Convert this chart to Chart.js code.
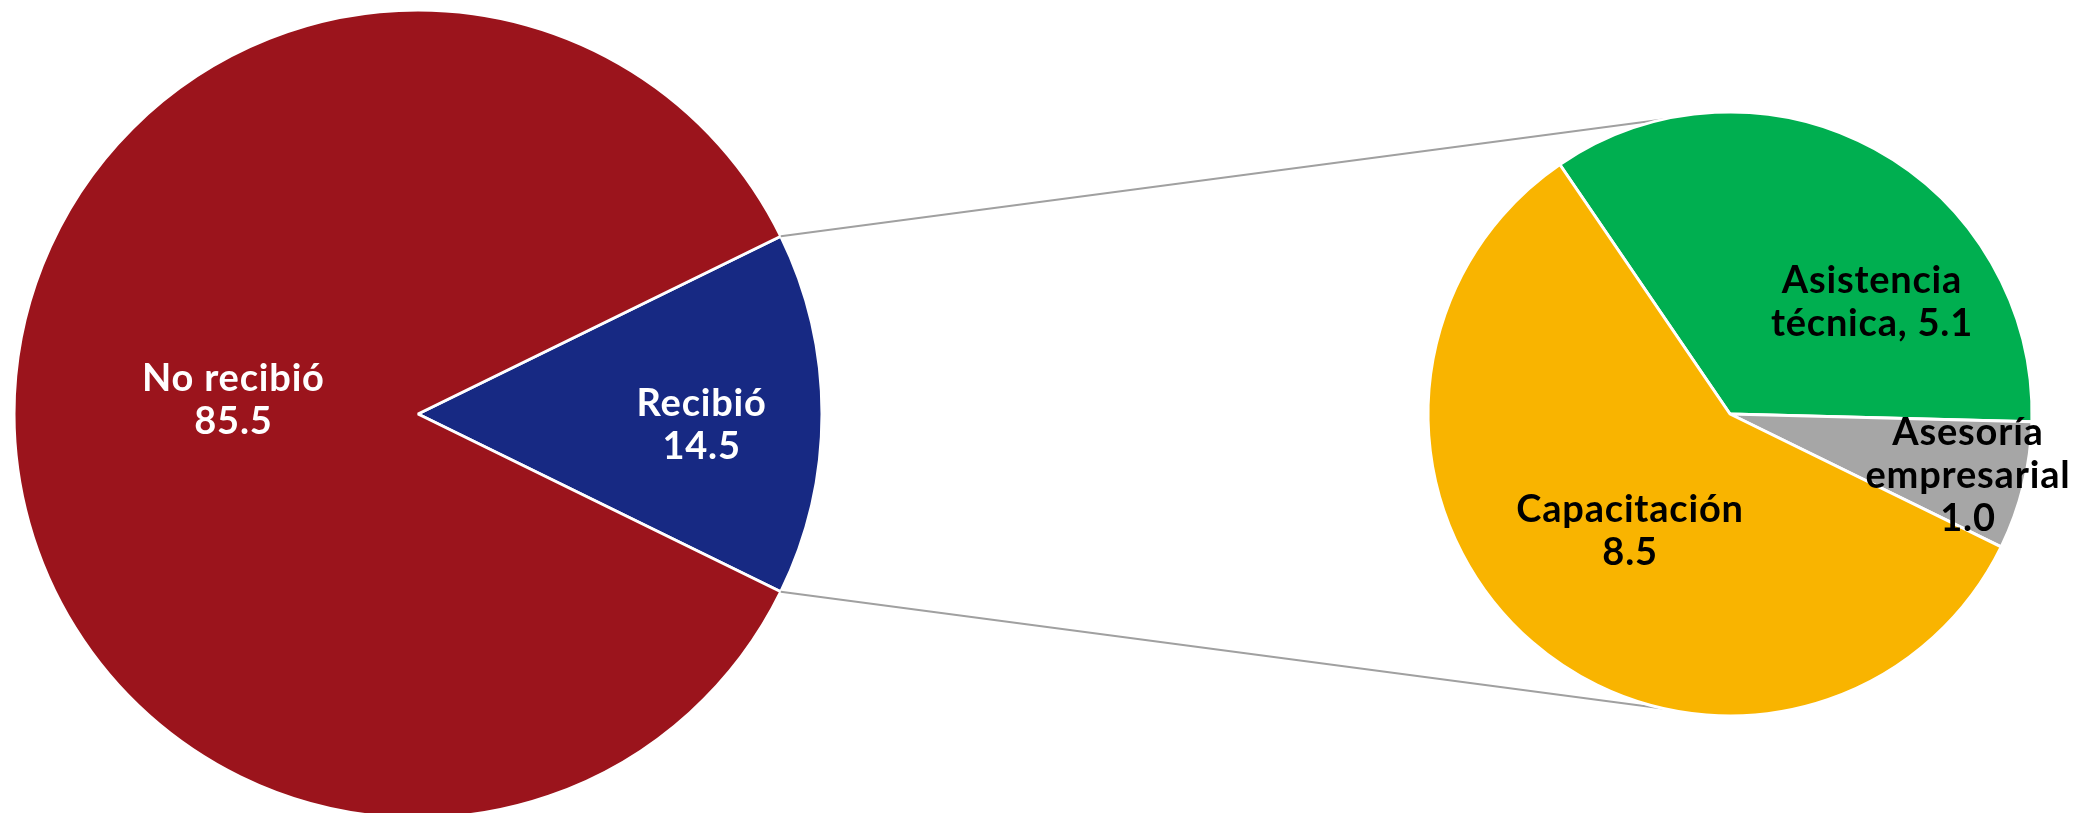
<!DOCTYPE html>
<html lang="es">
<head>
<meta charset="utf-8">
<title>Apoyo recibido</title>
<script src="https://cdn.jsdelivr.net/npm/chart.js@4.4.1/dist/chart.umd.min.js"></script>
<style>
  html, body { margin: 0; padding: 0; background: #fff; overflow: hidden; }
  #wrap { position: relative; width: 2079px; height: 813px; overflow: hidden; }
  #wrap canvas { position: absolute; left: 0; top: 0; }
</style>
</head>
<body>
<div id="wrap">
  <canvas id="main" width="2079" height="830"></canvas>
  <canvas id="detail" width="2079" height="830"></canvas>
</div>
<script>
  // main pie: received support or not
  const mainCategories = ["Recibió", "No recibió"];
  const mainValues = [14.5, 85.5];
  const mainColors = ["#172983", "#9b141c"];
  // "{v}" is replaced by the slice value
  const mainLines = [["Recibió", "{v}"], ["No recibió", "{v}"]];

  // detail pie: type of support received
  const detailCategories = ["Asistencia técnica", "Asesoría empresarial", "Capacitación"];
  const detailValues = [5.1, 1.0, 8.5];
  const detailColors = ["#00af50", "#a6a6a6", "#f9b400"];
  const detailLines = [["Asistencia", "técnica, {v}"], ["Asesoría", "empresarial", "{v}"], ["Capacitación", "{v}"]];

  const fmt = v => v.toFixed(1);
  const fillLines = (lines, values) => lines.map((l, i) => l.map(s => s.replace("{v}", fmt(values[i]))));

  // text drawn inside the slices, offset from the pie centre in units of radius
  const sliceLabels = {
    id: "sliceLabels",
    afterDatasetsDraw(chart, args, opts) {
      const ctx = chart.ctx;
      const arcs = chart.getDatasetMeta(0).data;
      ctx.save();
      ctx.font = "bold " + opts.size + "px Lato";
      ctx.letterSpacing = "0.8px";
      ctx.fillStyle = opts.color;
      ctx.textAlign = "center";
      ctx.textBaseline = "alphabetic";
      arcs.forEach((arc, i) => {
        const lines = opts.lines[i];
        const r = arc.outerRadius;
        const cx = arc.x + opts.offsets[i][0] * r;
        const cy = arc.y + opts.offsets[i][1] * r;
        const h = opts.capHeight + (lines.length - 1) * opts.lineHeight;
        let y = cy - h / 2 + opts.capHeight;
        lines.forEach(line => {
          ctx.fillText(line, cx, y);
          y += opts.lineHeight;
        });
      });
      ctx.restore();
    }
  };

  let mainChart;

  // grey lines joining the "Recibió" slice to the detail pie
  const connectors = {
    id: "connectors",
    beforeDatasetsDraw(chart, args, opts) {
      if (!mainChart) return;
      const src = mainChart.getDatasetMeta(0).data[0];
      const dst = chart.getDatasetMeta(0).data[0];
      const tilt = opts.tilt * Math.PI / 180;
      const pairs = [
        [src.startAngle, -Math.PI / 2 - tilt],
        [src.endAngle, Math.PI / 2 + tilt]
      ];
      const ctx = chart.ctx;
      ctx.save();
      ctx.strokeStyle = opts.color;
      ctx.lineWidth = opts.width;
      pairs.forEach(([a, b]) => {
        ctx.beginPath();
        ctx.moveTo(src.x + Math.cos(a) * src.outerRadius, src.y + Math.sin(a) * src.outerRadius);
        ctx.lineTo(dst.x + Math.cos(b) * dst.outerRadius, dst.y + Math.sin(b) * dst.outerRadius);
        ctx.stroke();
      });
      ctx.restore();
    }
  };

  const baseOptions = {
    responsive: false,
    animation: false,
    events: [],
    plugins: { legend: { display: false }, tooltip: { enabled: false } }
  };

  function draw() {
    mainChart = new Chart(document.getElementById("main"), {
      type: "pie",
      data: {
        labels: mainCategories,
        datasets: [{
          data: mainValues,
          backgroundColor: mainColors,
          borderColor: "#ffffff",
          borderWidth: 3
        }]
      },
      options: {
        ...baseOptions,
        rotation: 63.9,
        layout: { padding: { left: 12.5, right: 1255.5, top: 8.5, bottom: 10.5 } },
        plugins: {
          ...baseOptions.plugins,
          sliceLabels: {
            lines: fillLines(mainLines, mainValues),
            offsets: [[0.702, 0.025], [-0.457, -0.037]],
            size: 38,
            capHeight: 27,
            lineHeight: 43,
            color: "#ffffff"
          }
        }
      },
      plugins: [sliceLabels]
    });

    new Chart(document.getElementById("detail"), {
      type: "pie",
      data: {
        labels: detailCategories,
        datasets: [{
          data: detailValues,
          backgroundColor: detailColors,
          borderColor: "#ffffff",
          borderWidth: 3
        }]
      },
      options: {
        ...baseOptions,
        rotation: -34.3,
        layout: { padding: { left: 1426.5, right: 45.5, top: 110.5, bottom: 112.5 } },
        plugins: {
          ...baseOptions.plugins,
          connectors: { tilt: 12.5, color: "#a0a0a0", width: 2 },
          sliceLabels: {
            lines: fillLines(detailLines, detailValues),
            offsets: [[0.470, -0.373], [0.788, 0.199], [-0.331, 0.384]],
            size: 38,
            capHeight: 27,
            lineHeight: 43,
            color: "#000000"
          }
        }
      },
      plugins: [connectors, sliceLabels]
    });
  }

  document.fonts.load("bold 38px Lato").then(draw, draw);
</script>
</body>
</html>
